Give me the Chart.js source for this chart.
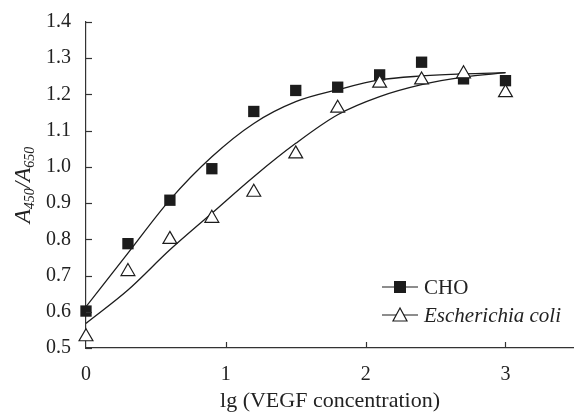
<!DOCTYPE html>
<html>
<head>
<meta charset="utf-8">
<script src="https://cdn.jsdelivr.net/npm/chart.js@4/dist/chart.umd.min.js"></script>
<style>
  html, body { margin: 0; padding: 0; background: #fff; }
  #wrap { width: 574px; height: 414px; }
</style>
</head>
<body>
<div id="wrap"><canvas id="myChart" width="574" height="414"></canvas></div>
<script>
// measured points
const doseX = [0, 0.3, 0.6, 0.9, 1.2, 1.5, 1.8, 2.1, 2.4, 2.7, 3.0];
const choValues = [0.602, 0.788, 0.908, 0.995, 1.153, 1.211, 1.220, 1.254, 1.289, 1.243, 1.238];
const coliValues = [0.531, 0.711, 0.800, 0.858, 0.930, 1.036, 1.162, 1.231, 1.240, 1.257, 1.205];

// fitted curves
const fitX = [0, 0.3, 0.6, 0.9, 1.2, 1.5, 1.8, 2.1, 2.4, 2.7, 3.0];
const choFit = [0.614, 0.762, 0.909, 1.028, 1.120, 1.180, 1.213, 1.240, 1.251, 1.257, 1.260];
const coliFit = [0.568, 0.660, 0.771, 0.872, 0.973, 1.065, 1.144, 1.194, 1.227, 1.248, 1.260];

const xTicks = [0, 1, 2, 3];
const seriesNames = ["CHO", "Escherichia coli"];

const pts = (xs, ys) => xs.map((x, i) => ({ x: x, y: ys[i] }));

const ink = "#1c1c1c";
const serif = "'Liberation Serif', 'DejaVu Serif', serif";

// inward tick marks, y axis title and the legend box
const decorPlugin = {
  id: "decor",
  afterDraw(chart) {
    const ctx = chart.ctx;
    const area = chart.chartArea;
    const xs = chart.scales.x, ys = chart.scales.y;
    ctx.save();
    ctx.strokeStyle = "#333";
    ctx.lineWidth = 1.2;
    ys.ticks.forEach(t => {
      const py = Math.round(ys.getPixelForValue(t.value)) + 0.5;
      ctx.beginPath();
      ctx.moveTo(area.left, py);
      ctx.lineTo(area.left + 6, py);
      ctx.stroke();
    });
    xs.ticks.forEach(t => {
      if (t.value === 0) return;
      const px = Math.round(xs.getPixelForValue(t.value)) + 0.5;
      ctx.beginPath();
      ctx.moveTo(px, area.bottom);
      ctx.lineTo(px, area.bottom - 6);
      ctx.stroke();
    });

    // y title: A450/A650 with subscripts
    ctx.translate(23, 185);
    ctx.rotate(-Math.PI / 2);
    ctx.fillStyle = "#222";
    ctx.textBaseline = "alphabetic";
    const parts = [
      ["A", "italic 23px " + serif, 0],
      ["450", "italic 14px " + serif, 4],
      ["/", "italic 23px " + serif, 0],
      ["A", "italic 23px " + serif, 0],
      ["650", "italic 14px " + serif, 4]
    ];
    let total = 0;
    parts.forEach(p => { ctx.font = p[1]; total += ctx.measureText(p[0]).width; });
    let cx = -total / 2;
    parts.forEach(p => {
      ctx.font = p[1];
      ctx.fillText(p[0], cx, 7 + p[2]);
      cx += ctx.measureText(p[0]).width;
    });
    ctx.setTransform(1, 0, 0, 1, 0, 0);

    // legend
    const rows = [
      { y: 287, style: "rect", label: seriesNames[0], font: "21px " + serif },
      { y: 315, style: "triangle", label: seriesNames[1], font: "italic 21px " + serif }
    ];
    rows.forEach(r => {
      ctx.strokeStyle = ink;
      ctx.lineWidth = 1.2;
      ctx.beginPath();
      ctx.moveTo(382, r.y);
      ctx.lineTo(418, r.y);
      ctx.stroke();
      if (r.style === "rect") {
        ctx.fillStyle = ink;
        ctx.fillRect(394, r.y - 6, 12, 12);
      } else {
        ctx.fillStyle = "#fff";
        ctx.beginPath();
        ctx.moveTo(400, r.y - 7);
        ctx.lineTo(393, r.y + 6);
        ctx.lineTo(407, r.y + 6);
        ctx.closePath();
        ctx.fill();
        ctx.stroke();
      }
      ctx.fillStyle = "#222";
      ctx.font = r.font;
      ctx.textBaseline = "middle";
      ctx.fillText(r.label, 424, r.y + 1);
    });
    ctx.restore();
  }
};

const ctx = document.getElementById("myChart").getContext("2d");
const myChart = new Chart(ctx, {
  type: "scatter",
  data: {
    datasets: [
      {
        type: "line",
        label: "CHO fit",
        data: pts(fitX, choFit),
        borderColor: ink,
        borderWidth: 1.3,
        pointRadius: 0,
        cubicInterpolationMode: "monotone",
        fill: false,
        order: 3
      },
      {
        type: "line",
        label: "E. coli fit",
        data: pts(fitX, coliFit),
        borderColor: ink,
        borderWidth: 1.3,
        pointRadius: 0,
        cubicInterpolationMode: "monotone",
        fill: false,
        order: 4
      },
      {
        label: seriesNames[0],
        data: pts(doseX, choValues),
        pointStyle: "rect",
        pointRadius: 8,
        backgroundColor: ink,
        borderColor: ink,
        borderWidth: 0,
        clip: false,
        order: 2
      },
      {
        label: seriesNames[1],
        data: pts(doseX, coliValues),
        pointStyle: "triangle",
        pointRadius: 8,
        backgroundColor: "#fff",
        borderColor: ink,
        borderWidth: 1.2,
        clip: false,
        order: 1
      }
    ]
  },
  options: {
    responsive: false,
    animation: false,
    layout: { autoPadding: false, padding: { top: 22, right: 0, left: 0, bottom: 0 } },
    plugins: {
      legend: { display: false },
      tooltip: { enabled: false }
    },
    scales: {
      x: {
        type: "linear",
        min: 0,
        max: 3.49,
        afterBuildTicks: s => { s.ticks = xTicks.map(v => ({ value: v })); },
        afterFit: s => { s.height = 66; s.paddingLeft = 0; s.paddingRight = 0; },
        grid: { display: false, drawTicks: false },
        border: { display: true, color: "#333", width: 1.2 },
        ticks: {
          color: "#222",
          padding: 15,
          maxRotation: 0,
          font: { family: serif, size: 20 }
        },
        title: {
          display: true,
          text: "lg (VEGF concentration)",
          color: "#222",
          font: { family: serif, size: 22 },
          padding: { top: 4, bottom: 0 }
        }
      },
      y: {
        min: 0.5,
        max: 1.4,
        afterFit: s => { s.width = 86; s.paddingTop = 0; s.paddingBottom = 0; },
        grid: { display: false, drawTicks: false },
        border: { display: true, color: "#333", width: 1.2 },
        ticks: {
          stepSize: 0.1,
          color: "#222",
          padding: 15,
          font: { family: serif, size: 20 },
          callback: v => Number(v).toFixed(1)
        }
      }
    }
  },
  plugins: [decorPlugin]
});
</script>
</body>
</html>
